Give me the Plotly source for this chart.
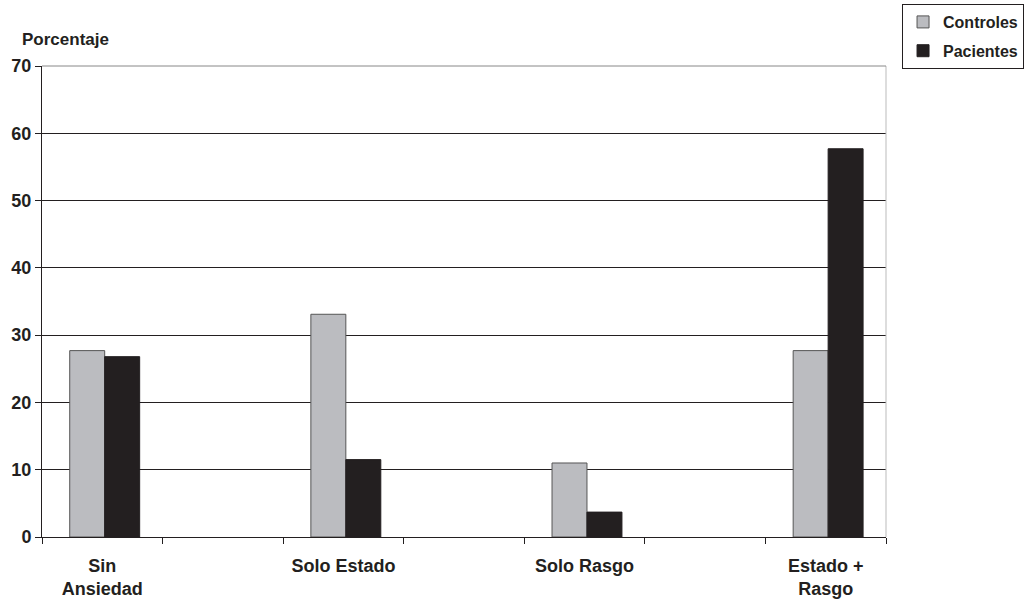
import plotly.graph_objects as go

# Category slots: labelled groups separated by empty slots
slot_pos = [0, 2, 4, 6]
categories = ["Sin<br>Ansiedad", "Solo Estado", "Solo Rasgo", "Estado +<br>Rasgo"]
controles = [27.7, 33.1, 11.0, 27.7]
pacientes = [26.8, 11.5, 3.7, 57.7]
y_ticks = [0, 10, 20, 30, 40, 50, 60, 70]

FONT = "Liberation Sans, Arial, sans-serif"
BAR_W = 0.29

fig = go.Figure()
fig.add_trace(go.Bar(
    x=slot_pos, y=controles, name="Controles", legendgroup="c",
    width=BAR_W, offset=-BAR_W + 0.02,
    marker=dict(color="#BBBCC0", line=dict(color="#555555", width=1)),
))
fig.add_trace(go.Bar(
    x=slot_pos, y=pacientes, name="Pacientes", legendgroup="p",
    width=BAR_W, offset=0.02,
    marker=dict(color="#231F20", line=dict(color="#231F20", width=1)),
))

fig.update_layout(
    width=1027, height=603,
    margin=dict(l=42, r=141, t=66, b=66, autoexpand=False),
    paper_bgcolor="white", plot_bgcolor="white",
    barmode="overlay",
    font=dict(family=FONT, size=18, color="#231F20"),
    legend=dict(
        x=1.019, y=1.1316, xanchor="left", yanchor="top",
        bordercolor="#231F20", borderwidth=1,
        font=dict(family=FONT, size=16, color="#231F20", weight="bold"),
        traceorder="grouped", tracegroupgap=5,
        itemwidth=30,
    ),
    xaxis=dict(
        range=[-0.5, 6.5], tickmode="array", tickvals=slot_pos,
        ticktext=[f"<b>{c}</b>" for c in categories],
        ticks="", showgrid=False, zeroline=False,
        showline=True, linecolor="#231F20", linewidth=1,
        ticklabelstandoff=12,
        tickfont=dict(family=FONT, size=18, color="#231F20"),
        minor=dict(tickmode="array", tickvals=[i - 0.5 for i in range(8)],
                   ticks="outside", ticklen=6, tickcolor="#231F20", tickwidth=1),
    ),
    yaxis=dict(
        range=[0, 70], tickmode="array", tickvals=y_ticks,
        ticktext=[f"<b>{v}</b>" for v in y_ticks],
        ticks="outside", ticklen=6, tickcolor="#231F20",
        showgrid=True, gridcolor="#231F20", gridwidth=1,
        zeroline=False, showline=True, linecolor="#231F20", linewidth=1,
        tickfont=dict(family=FONT, size=18, color="#231F20"),
    ),
    annotations=[dict(
        text="<b>Porcentaje</b>", xref="paper", yref="paper",
        x=-0.026, y=1.032, xanchor="left", yanchor="bottom", showarrow=False,
        font=dict(family=FONT, size=17, color="#231F20"),
    )],
    shapes=[
        dict(type="line", xref="paper", yref="paper", x0=1, x1=1, y0=0, y1=1,
             line=dict(color="#BBBBBB", width=1)),
        dict(type="line", xref="paper", yref="paper", x0=0, x1=1, y0=1, y1=1,
             line=dict(color="#888888", width=1)),
    ],
)

fig.write_html("out.html")
